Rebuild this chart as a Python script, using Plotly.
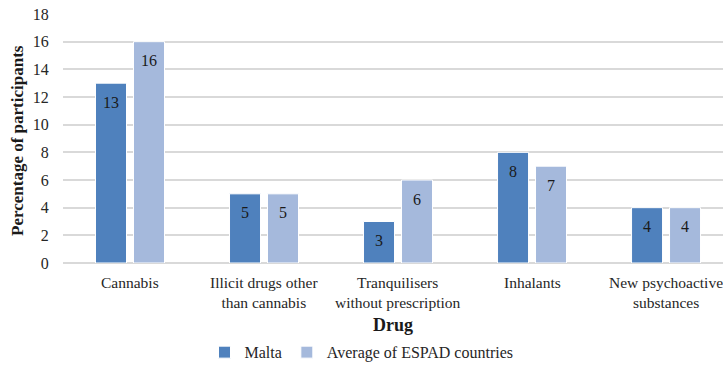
import plotly.graph_objects as go

# Survey results: percentage of participants reporting use, by drug type
drugs = [
    "Cannabis",
    "Illicit drugs other<br>than cannabis",
    "Tranquilisers<br>without prescription",
    "Inhalants",
    "New psychoactive<br>substances",
]
malta = [13, 5, 3, 8, 4]
espad_avg = [16, 5, 6, 7, 4]
y_ticks = [0, 2, 4, 6, 8, 10, 12, 14, 16, 18]

MALTA_COLOR = "#4f81bd"
ESPAD_COLOR = "#a5b9dc"
FONT = "Liberation Serif"
TEXT = "#262626"

fig = go.Figure()
fig.add_trace(go.Bar(
    x=list(range(len(drugs))), y=malta, name="Malta",
    marker=dict(color=MALTA_COLOR, line=dict(color="white", width=1)),
))
fig.add_trace(go.Bar(
    x=list(range(len(drugs))), y=espad_avg, name="Average of ESPAD countries",
    marker=dict(color=ESPAD_COLOR, line=dict(color="white", width=1)),
))

# value labels placed just inside the top of each bar
slot = 0.2836  # half the group width, in category units
for i, (m, e) in enumerate(zip(malta, espad_avg)):
    for val, off in ((m, -slot / 2), (e, slot / 2)):
        fig.add_annotation(
            x=i + off, y=val, text=str(val), showarrow=False,
            yshift=-19, font=dict(family=FONT, size=16, color="#1a1a1a"),
        )

# category labels under each group (drawn as text so the last one is not dropped)
for i, name in enumerate(drugs):
    fig.add_annotation(
        x=i, y=0, yref="y", text=name, showarrow=False,
        yanchor="top", yshift=-9, align="center",
        font=dict(family=FONT, size=15.5, color=TEXT),
    )

# axis titles
fig.add_annotation(
    x=0.5, xref="paper", y=0, yref="paper", yanchor="top", yshift=-50,
    text="<b>Drug</b>", showarrow=False,
    font=dict(family=FONT, size=18, color="#1a1a1a"),
)
fig.add_annotation(
    x=0, xref="paper", xanchor="center", xshift=-45, y=0.49, yref="paper",
    text="<b>Percentage of participants</b>", showarrow=False, textangle=-90,
    font=dict(family=FONT, size=17, color="#1a1a1a"),
)

fig.update_layout(
    width=723, height=365,
    margin=dict(l=63, r=0, t=14, b=102, autoexpand=False),
    paper_bgcolor="white", plot_bgcolor="white",
    barmode="group", bargap=0.433, bargroupgap=0.184,
    font=dict(family=FONT, size=16, color=TEXT),
    showlegend=True,
    legend=dict(
        orientation="h", x=0.5, xref="container", xanchor="center",
        y=0.035, yref="container", yanchor="middle",
        font=dict(family=FONT, size=16, color=TEXT),
        itemwidth=30, tracegroupgap=0,
    ),
    xaxis=dict(
        range=[-0.5, 4.425],
        showticklabels=False,
        showgrid=False, zeroline=False, showline=False, ticks="",
    ),
    yaxis=dict(
        range=[0, 18], tickvals=y_ticks,
        showgrid=True, gridcolor="#d9d9d9", gridwidth=1.5,
        zeroline=True, zerolinecolor="#d9d9d9", zerolinewidth=1.5,
        showline=False,
        ticks="outside", ticklen=10, tickcolor="rgba(0,0,0,0)",
        tickfont=dict(family=FONT, size=16, color=TEXT),
    ),
)

fig.write_html("out.html")
